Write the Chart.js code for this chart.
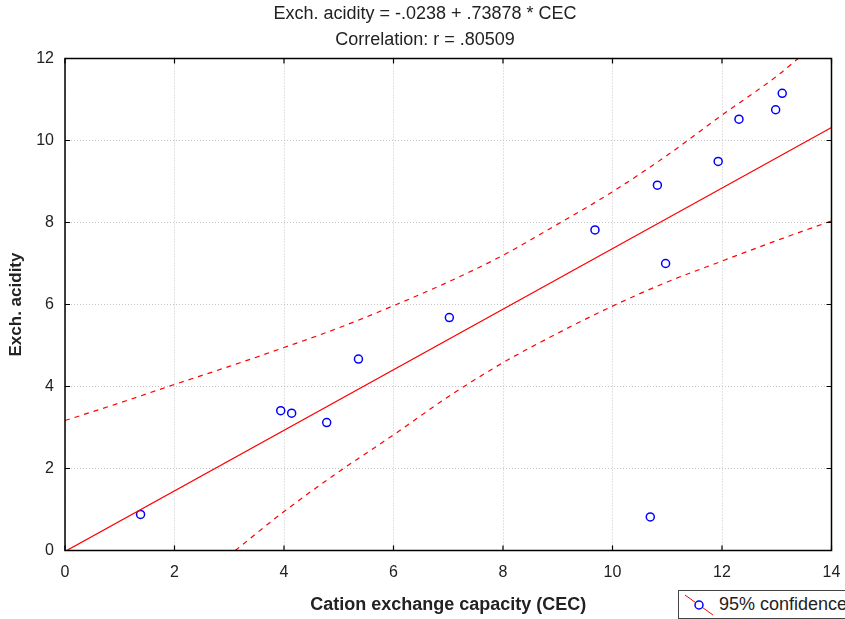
<!DOCTYPE html>
<html>
<head>
<meta charset="utf-8">
<script src="https://cdn.jsdelivr.net/npm/chart.js@4"></script>
<style>
  html, body { margin: 0; padding: 0; background: #fff; overflow: hidden; }
  #wrap { position: relative; width: 845px; height: 619px; }
  #legend {
    position: absolute; left: 678px; top: 590px; width: 180px; height: 29px;
    border: 1px solid #444; background: #fff; box-sizing: border-box;
    font-family: 'Liberation Sans', Arial, sans-serif; font-size: 18px; color: #222;
    display: flex; align-items: center; white-space: nowrap;
  }
  #legend svg { margin-left: 4px; margin-right: 4px; }
</style>
</head>
<body>
<div id="wrap">
  <canvas id="regChart" width="845" height="619"></canvas>
  <div id="legend">
    <svg width="32" height="24" viewBox="0 0 32 24">
      <line x1="2" y1="2" x2="30" y2="22" stroke="#ff0000" stroke-width="1"/>
      <circle cx="16" cy="12" r="4" fill="#fff" stroke="#0000ff" stroke-width="1.5"/>
    </svg>
    <span>95% confidence</span>
  </div>
</div>
<script>
// Observed data (CEC vs exchangeable acidity)
const cec     = [1.38, 3.94, 4.14, 4.78, 5.36, 7.02, 9.68, 10.69, 10.82, 10.97, 11.93, 12.31, 12.98, 13.10];
const acidity = [0.88, 3.41, 3.35, 3.12, 4.67, 5.68, 7.82, 0.82, 8.91, 7.00, 9.49, 10.52, 10.75, 11.15];

// Fitted line end points
const fitX = [0, 14];
const fitY = [-0.0238, 10.319];

// 95% confidence bands
const upperX = [0, 1, 2, 3, 4, 5, 6, 7, 8, 9, 10, 11, 12, 13, 13.39];
const upperY = [3.17, 3.60, 4.05, 4.49, 4.95, 5.43, 5.97, 6.55, 7.20, 7.96, 8.75, 9.64, 10.62, 11.57, 12.0];
const lowerX = [3.11, 4, 5, 6, 7, 8, 9, 10, 11, 12, 13, 14];
const lowerY = [0, 0.95, 1.92, 2.82, 3.75, 4.58, 5.30, 5.96, 6.55, 7.06, 7.56, 8.04];

const xTicks = [0, 2, 4, 6, 8, 10, 12, 14];
const yTicks = [0, 2, 4, 6, 8, 10, 12];

const pts = (xs, ys) => xs.map((x, i) => ({ x: x, y: ys[i] }));

const FONT = "'Liberation Sans', Arial, sans-serif";

// frame round the plot + short inward ticks on all four sides
const framePlugin = {
    id: 'frame',
    afterDraw(chart) {
        const { ctx, chartArea: a, scales } = chart;
        ctx.save();
        ctx.strokeStyle = '#000';
        ctx.lineWidth = 1.5;
        ctx.strokeRect(a.left, a.top, a.right - a.left, a.bottom - a.top);
        ctx.lineWidth = 1.2;
        ctx.beginPath();
        xTicks.forEach(v => {
            const px = scales.x.getPixelForValue(v);
            ctx.moveTo(px, a.bottom); ctx.lineTo(px, a.bottom - 5);
            ctx.moveTo(px, a.top); ctx.lineTo(px, a.top + 5);
        });
        yTicks.forEach(v => {
            const py = scales.y.getPixelForValue(v);
            ctx.moveTo(a.left, py); ctx.lineTo(a.left + 5, py);
            ctx.moveTo(a.right, py); ctx.lineTo(a.right - 5, py);
        });
        ctx.stroke();
        ctx.restore();
    }
};

const lineStyle = { borderColor: '#ff0000', borderWidth: 1.2, pointRadius: 0, showLine: true, fill: false };

new Chart(document.getElementById('regChart').getContext('2d'), {
    type: 'scatter',
    data: {
        datasets: [
            { label: 'Fit', data: pts(fitX, fitY), ...lineStyle },
            { label: 'Upper 95%', data: pts(upperX, upperY), ...lineStyle, borderDash: [5, 5], cubicInterpolationMode: 'monotone' },
            { label: 'Lower 95%', data: pts(lowerX, lowerY), ...lineStyle, borderDash: [5, 5], cubicInterpolationMode: 'monotone' },
            { label: 'Observed', data: pts(cec, acidity), showLine: false, pointStyle: 'circle', pointRadius: 4,
              borderColor: '#0000ff', backgroundColor: 'rgba(255,255,255,0)', pointBorderWidth: 1.5 }
        ]
    },
    options: {
        responsive: false,
        animation: false,
        layout: { padding: { left: 5, right: 0, top: 0, bottom: 0 } },
        plugins: {
            legend: { display: false },
            tooltip: { enabled: false },
            title: {
                display: true,
                text: 'Exch. acidity = -.0238 + .73878 * CEC',
                color: '#222',
                font: { family: FONT, size: 18, weight: 'normal' },
                padding: { top: 3.2, bottom: 1 }
            },
            subtitle: {
                display: true,
                text: 'Correlation: r = .80509',
                color: '#222',
                font: { family: FONT, size: 18, weight: 'normal' },
                padding: { top: 3.4, bottom: 7.7 }
            }
        },
        scales: {
            x: {
                type: 'linear',
                min: 0, max: 14,
                afterFit(s) { s.height = 68.5; s.paddingRight = 13.5; },
                ticks: { stepSize: 2, color: '#222', padding: 12, font: { family: FONT, size: 16 } },
                grid: { color: '#c4c4c4', lineWidth: 1, drawTicks: false },
                border: { display: false, dash: [1, 2] },
                title: {
                    display: true,
                    text: 'Cation exchange capacity (CEC)',
                    color: '#222',
                    font: { family: FONT, size: 18, weight: 'bold' },
                    padding: { top: 0, bottom: 3.2 }
                }
            },
            y: {
                type: 'linear',
                min: 0, max: 12,
                afterFit(s) { s.width = 60; },
                ticks: { stepSize: 2, color: '#222', padding: 11, font: { family: FONT, size: 16 } },
                grid: { color: '#c4c4c4', lineWidth: 1, drawTicks: false },
                border: { display: false, dash: [1, 2] },
                title: {
                    display: true,
                    text: 'Exch. acidity',
                    color: '#222',
                    font: { family: FONT, size: 17, weight: 'bold' },
                    padding: { top: 1, bottom: 0 }
                }
            }
        }
    },
    plugins: [framePlugin]
});
</script>
</body>
</html>
